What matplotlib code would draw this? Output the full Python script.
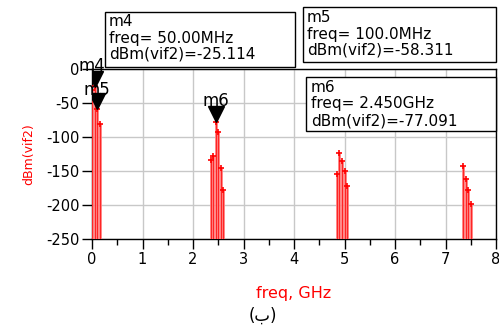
import matplotlib
matplotlib.use("Agg")
import matplotlib.pyplot as plt
from matplotlib.patches import Rectangle
from matplotlib.ticker import MultipleLocator

# spectrum lines (GHz, dBm)
freq_ghz = [0.0, 0.05, 0.10, 0.15,
            2.35, 2.40, 2.45, 2.50, 2.55, 2.60,
            4.85, 4.90, 4.95, 5.00, 5.05,
            7.35, 7.40, 7.45, 7.50]
dbm_vif2 = [-30.0, -25.114, -58.311, -81.0,
            -133.0, -128.0, -77.091, -92.5, -145.6, -178.0,
            -154.0, -123.5, -135.0, -149.6, -172.6,
            -142.0, -162.0, -178.5, -198.0]

# markers
marker_names = ["m4", "m5", "m6"]
marker_freq = [0.05, 0.10, 2.45]
marker_dbm = [-25.114, -58.311, -77.091]
marker_freq_text = ["50.00MHz", "100.0MHz", "2.450GHz"]

W, H = 499, 326
plt.rcParams["font.family"] = ["DejaVu Sans"]
plt.rcParams["axes.unicode_minus"] = False

fig = plt.figure(figsize=(W / 100, H / 100), dpi=100)


def fx(px):
    return px / W


def fy(py):
    return 1 - py / H


ax = fig.add_axes([fx(92), fy(239), fx(496) - fx(92), fy(69.3) - fy(239)])
ax.set_xlim(0, 8)
ax.set_ylim(-250, 0)

ax.vlines(freq_ghz, -250, dbm_vif2, color="#ff7a7a", lw=2.0, zorder=3)
ax.vlines(freq_ghz, -250, dbm_vif2, color="#ff0000", lw=0.5, zorder=3)
ax.plot(freq_ghz, dbm_vif2, ls="none", marker="+", ms=4, mew=1.2,
        color="red", zorder=4)

ax.xaxis.set_major_locator(MultipleLocator(1))
ax.xaxis.set_minor_locator(MultipleLocator(0.5))
ax.yaxis.set_major_locator(MultipleLocator(50))
ax.grid(True, which="major", color="#c8c8c8", lw=1.0)
ax.set_axisbelow(True)
ax.tick_params(axis="both", which="major", direction="out", length=7,
               width=1, labelsize=10.5, pad=2)
ax.tick_params(axis="x", which="minor", direction="out", length=4, width=1)
for s in ax.spines.values():
    s.set_linewidth(1)

ax.set_xlabel("freq, GHz", color="red", fontsize=11.5, labelpad=14)
ax.set_ylabel("dBm(vif2)", color="red", fontsize=9, labelpad=8)

# marker triangles and names
offsets = [(-3, 20), (0, 19), (0, 21)]
for name, f, d, off in zip(marker_names, marker_freq, marker_dbm, offsets):
    ax.plot([f], [d], ls="none", marker="v", ms=11, color="black",
            zorder=6, transform=ax.transData +
            matplotlib.transforms.ScaledTranslation(0, 5.4 / 72, fig.dpi_scale_trans))
    ax.annotate(name, xy=(f, d), xytext=off, textcoords="offset pixels",
                ha="center", va="center", fontsize=12, zorder=7,
                annotation_clip=False)

# readout boxes: (left, top, right, bottom) in pixels, text start x, line y's
boxes = [(105, 12, 295, 67, 109, [21, 38, 54]),
         (303, 7, 496, 62, 307, [17, 34, 50]),
         (306, 77, 496, 131, 311, [88, 104, 121])]
for (l, t, r, b, tx, ys), name, ft, d in zip(boxes, marker_names,
                                             marker_freq_text, marker_dbm):
    fig.patches.append(Rectangle((fx(l), fy(b)), fx(r) - fx(l), fy(t) - fy(b),
                                 transform=fig.transFigure, facecolor="white",
                                 edgecolor="black", lw=1, zorder=10))
    lines = [name, "freq= " + ft, "dBm(vif2)=%.3f" % d]
    for line, y in zip(lines, ys):
        fig.text(fx(tx), fy(y), line, ha="left", va="center", fontsize=11,
                 zorder=11)

fig.text(fx(263), fy(316), "(ب)", ha="center", va="center", fontsize=12)

fig.savefig("out.png", dpi=100)
